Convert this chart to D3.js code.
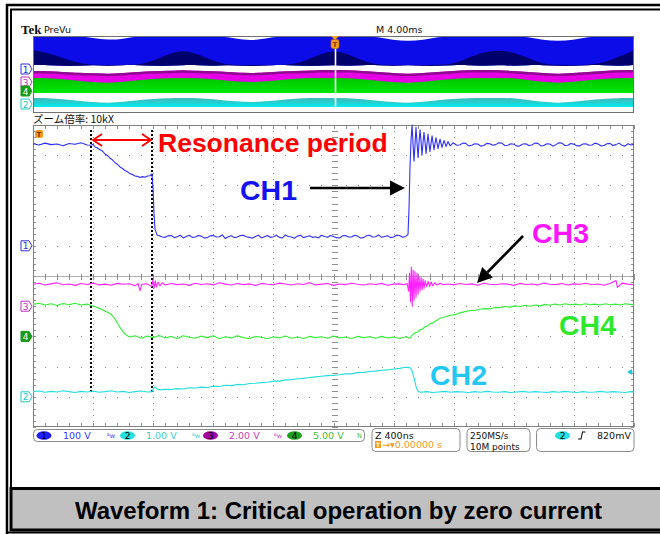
<!DOCTYPE html>
<html><head><meta charset="utf-8">
<script src="https://cdn.jsdelivr.net/npm/d3@7"></script>
<style>html,body{margin:0;padding:0;background:#fff;}svg{display:block;}</style>
</head><body>
<svg id="c" width="660" height="534"></svg>
<script>
// ---------------- DATA (time in ns, values in volts) ----------------
const ch1 = [[0,338],[40,334],[80,340],[120,335],[160,337],[200,331],[240,339],[280,336],[320,341],[360,334],
[386,333],[400,336],[413,327],[430,324],[446,318],[462,314],[479,304],[496,299],[513,290],[530,284],[546,275],[562,270],[579,261],[596,256],[612,249],[629,245],[646,239],[662,236],[679,231],[696,230],[712,226],[729,229],[745,227],[762,231],[779,232],[792,238],
[799,190],[805,110],[812,55],[825,36],
[840,33],[860,29],[880,28],[900,33],[920,34],[940,27],[960,30],[980,35],[1000,26],[1020,31],[1040,35],[1060,28],[1080,29],[1100,34],[1120,32],[1140,26],[1160,27],[1180,33],[1200,34],[1220,29],[1240,30],[1260,36],[1280,24],[1300,30],[1320,33],[1340,27],[1360,29],[1380,34],[1400,35],[1420,30],[1440,28],[1460,25],[1480,31],[1500,35],[1520,26],[1540,30],[1560,34],[1580,28],[1600,30],[1620,35],[1640,28],[1660,26],[1680,36],[1700,31],[1720,29],[1740,25],[1760,32],[1780,35],[1800,27],[1820,30],[1840,33],[1860,28],[1880,30],[1900,26],[1920,35],[1940,31],[1960,28],[1980,34],[2000,31],[2020,27],[2040,26],[2060,33],[2080,34],[2100,29],[2120,29],[2140,35],[2160,32],[2180,26],[2200,27],[2220,33],[2240,35],[2260,29],[2280,30],[2300,36],[2320,28],[2340,31],[2360,33],[2380,27],[2400,29],[2420,35],[2440,34],[2460,28],[2480,31],
[2496,38],[2503,130],[2509,260],[2516,350],[2523,400],[2530,330],[2536,280],[2543,340],[2549,392],[2556,340],[2563,292],[2569,340],[2576,384],[2583,345],[2589,300],[2596,342],[2602,376],[2609,344],[2616,306],[2629,370],[2642,312],[2656,364],[2669,318],[2682,358],[2696,322],[2709,353],[2722,326],[2736,349],[2749,329],[2762,345],[2776,331],[2796,341],
[2820,333],[2840,334],[2860,340],[2880,339],[2900,331],[2920,333],[2940,338],[2960,337],[2980,330],[3000,332],[3020,339],[3040,338],[3060,333],[3080,335],[3100,341],[3120,340],[3140,332],[3160,333],[3180,338],[3200,336],[3220,330],[3240,331],[3260,337],[3280,338],[3300,332],[3320,334],[3340,340],[3360,339],[3380,331],[3400,332],[3420,338],[3440,337],[3460,330],[3480,335],[3500,341],[3520,340],[3540,332],[3560,333],[3580,339],[3600,336],[3620,331],[3640,331],[3660,337],[3680,338],[3700,333],[3720,334],[3740,340],[3760,337],[3780,331],[3800,332],[3820,338],[3840,339],[3860,332],[3880,335],[3900,340],[3920,333],[3940,330],[3960,338],[3980,334],[4000,336]];

const ch2 = [[0,0.17],[40,0.19],[80,0.15],[120,0.18],[160,0.16],[200,0.2],[240,0.17],[280,0.14],[320,0.18],[360,0.16],[400,0.19],[440,0.15],[480,0.17],[520,0.2],[560,0.16],[600,0.18],[640,0.14],[680,0.17],[720,0.19],[760,0.16],[792,0.17],[805,0.3],[812,0.33],[825,0.26],[845,0.23],[880,0.25],[920,0.24],[960,0.27],[1000,0.26],[1040,0.30],[1080,0.29],[1120,0.32],[1160,0.31],[1200,0.35],[1240,0.34],[1280,0.38],[1320,0.37],[1360,0.41],[1400,0.40],[1440,0.44],[1480,0.45],[1520,0.47],[1560,0.48],[1600,0.52],[1640,0.52],[1680,0.56],[1720,0.57],[1760,0.60],[1800,0.61],[1840,0.64],[1880,0.66],[1920,0.68],[1960,0.70],[2000,0.71],[2040,0.73],[2080,0.76],[2120,0.76],[2160,0.80],[2200,0.81],[2240,0.84],[2280,0.85],[2320,0.88],[2360,0.89],[2400,0.92],[2440,0.94],[2470,0.97],[2496,0.98],[2509,0.96],[2523,0.86],[2536,0.62],[2549,0.35],[2563,0.18],[2580,0.15],[2620,0.17],[2660,0.14],[2700,0.16],[2740,0.18],[2780,0.15],[2820,0.17],[2860,0.16],[2900,0.14],[2940,0.17],[2980,0.15],[3020,0.18],[3060,0.16],[3100,0.15],[3140,0.17],[3180,0.14],[3220,0.16],[3260,0.18],[3300,0.15],[3340,0.17],[3380,0.16],[3420,0.14],[3460,0.17],[3500,0.15],[3540,0.18],[3580,0.16],[3620,0.14],[3660,0.17],[3700,0.15],[3740,0.16],[3780,0.18],[3820,0.15],[3860,0.17],[3900,0.16],[3940,0.14],[3980,0.17],[4000,0.16]];

const ch3 = [[0,1.45],[40,1.52],[80,1.40],[120,1.48],[160,1.55],[200,1.42],[240,1.47],[280,1.38],[320,1.50],[360,1.44],[400,1.53],[440,1.41],[480,1.46],[520,1.39],[560,1.51],[600,1.45],[640,1.49],[680,1.36],[700,1.50],[712,1.02],[724,1.45],[760,1.48],[790,1.30],[798,1.75],[806,1.20],[814,1.68],[822,1.28],[832,1.60],[845,1.35],[860,1.55],[880,1.40],[920,1.50],[960,1.43],[1000,1.47],[1040,1.38],[1080,1.52],[1120,1.44],[1160,1.49],[1200,1.41],[1240,1.55],[1280,1.46],[1320,1.40],[1360,1.50],[1400,1.43],[1440,1.48],[1480,1.37],[1520,1.51],[1560,1.45],[1600,1.42],[1640,1.53],[1680,1.47],[1720,1.40],[1760,1.49],[1800,1.44],[1840,1.56],[1880,1.41],[1920,1.46],[1960,1.50],[2000,1.38],[2040,1.47],[2080,1.43],[2120,1.52],[2160,1.45],[2200,1.40],[2240,1.49],[2280,1.44],[2320,1.51],[2360,1.39],[2400,1.46],[2440,1.48],[2470,1.42],
[2490,1.5],[2500,1.0],[2506,2.2],[2512,0.3],[2518,2.6],[2524,0.0],[2530,2.4],[2536,0.4],[2542,2.3],[2549,0.6],[2556,2.2],[2563,0.8],[2569,2.0],[2576,1.0],[2583,1.9],[2590,1.1],[2596,1.8],[2603,1.2],[2610,1.7],[2620,1.3],[2630,1.65],[2640,1.3],[2650,1.6],[2660,1.35],[2675,1.55],[2690,1.4],[2710,1.52],[2730,1.42],
[2760,1.47],[2800,1.41],[2840,1.50],[2880,1.44],[2920,1.48],[2960,1.39],[3000,1.52],[3040,1.45],[3080,1.42],[3120,1.49],[3160,1.46],[3200,1.38],[3240,1.51],[3280,1.44],[3320,1.47],[3360,1.41],[3400,1.53],[3440,1.45],[3480,1.43],[3520,1.50],[3560,1.40],[3600,1.48],[3640,1.45],[3680,1.52],[3720,1.42],[3760,1.47],[3800,1.39],[3840,1.50],[3880,1.70],[3890,1.25],[3920,1.53],[3960,1.46],[4000,1.42]];

const ch4 = [[0,5.3],[40,5.5],[80,5.2],[120,5.4],[160,5.1],[200,5.45],[240,5.25],[280,5.5],[320,5.2],[360,5.35],[386,5.1],[413,4.9],[446,4.6],[479,4.2],[513,3.8],[546,2.9],[566,2.0],[579,1.5],[599,0.8],[612,0.4],[632,0.05],[646,-0.1],[680,0.1],[720,-0.3],[760,0.05],[800,-0.2],[840,0.15],[880,-0.25],[920,0.0],[960,-0.35],[1000,0.1],[1040,-0.15],[1080,-0.3],[1120,0.05],[1160,-0.2],[1200,0.1],[1240,-0.4],[1280,-0.05],[1320,-0.25],[1360,0.1],[1400,-0.2],[1440,-0.35],[1480,0.0],[1520,-0.15],[1560,-0.4],[1600,-0.05],[1640,-0.25],[1680,0.05],[1720,-0.3],[1760,-0.1],[1800,-0.35],[1840,0.0],[1880,-0.2],[1920,-0.05],[1960,-0.3],[2000,0.05],[2040,-0.25],[2080,-0.1],[2120,-0.35],[2160,0.0],[2200,-0.2],[2240,-0.05],[2280,-0.3],[2320,0.0],[2360,-0.25],[2400,-0.1],[2440,-0.35],[2480,-0.05],[2509,-0.3],[2523,0.2],[2543,0.6],[2560,0.7],[2576,1.1],[2592,1.2],[2609,1.6],[2625,1.7],[2642,2.1],[2660,2.2],[2676,2.5],[2692,2.7],[2709,3.0],[2740,3.2],[2776,3.5],[2810,3.6],[2842,3.9],[2875,4.1],[2909,4.3],[2940,4.3],[2975,4.5],[3010,4.6],[3040,4.55],[3075,4.8],[3108,4.75],[3140,4.95],[3175,4.85],[3208,5.05],[3241,4.95],[3275,5.15],[3308,5.0],[3341,5.2],[3375,5.05],[3410,5.3],[3440,5.15],[3475,5.35],[3508,5.2],[3540,5.4],[3575,5.25],[3610,5.35],[3640,5.2],[3675,5.4],[3710,5.25],[3740,5.35],[3775,5.2],[3810,5.4],[3840,5.25],[3875,5.35],[3910,5.2],[3940,5.4],[3975,5.3],[4000,5.25]];

// overview (PreVu) envelopes, 41 samples across the record, in overview units (0 = top)
const ovBlueTop  = [0,0,0,0,2,4,3,0,0,0,0,0,0,1,4,4,1,0,0,0,0,0,0,1,4,5,4,1,0,0,0,0,0,1,4,5,4,1,0,0,0];
const ovNavyTop  = [14,17,22,27,29,29,29,29,25,18,14,18,25,29,29,29,29,29,26,19,14,18,25,29,29,29,29,29,28,22,16,14,16,22,28,29,29,29,27,21,15];
const ovBlueLow  = [29,29,30,30,29,30,29,29,30,30,29,29,30,29,30,30,29,29,30,30,29,30,29,29,30,29,30,30,29,29,30,29,30,29,29,30,30,29,29,30,29];
const ovMagTop   = [35,35,36,37,37,38,37,36,35,35,34,35,35,36,37,37,36,35,35,34,34,34,35,36,37,38,37,36,35,34,34,34,35,36,37,38,37,36,35,34,34];
const ovGreenTop = [42,42,43,45,46,47,46,44,43,42,42,42,43,45,46,46,45,43,42,42,42,42,43,45,46,47,46,44,43,42,42,42,42,44,46,47,46,44,43,42,42];
const ovGreenLow = [57,57,57,57,57,57,57,57,57,57,57,57,57,57,57,57,57,57,57,57,57,57,57,57,57,57,57,57,57,57,57,57,57,57,57,57,57,57,57,57,57];
const ovCyanTop  = [62,62,63,65,66,67,66,64,63,62,62,62,63,65,66,66,65,63,62,62,62,62,63,65,66,67,66,64,63,62,62,62,62,64,66,67,66,64,63,62,62];
const ovCyanLow  = [71,71,71,71,71,71,71,71,71,71,71,71,71,71,71,71,71,71,71,71,71,71,71,71,71,71,71,71,71,71,71,71,71,71,71,71,71,71,71,71,71];

// channel settings (from status bar)
const chNames  = ["1","2","3","4"];
const chScales = ["100 V","1.00 V","2.00 V","5.00 V"];
const chVdiv   = [100, 1, 2, 5];
const chPos    = [1.0, -4.0, -1.0, -2.0];
const chColors = ["#2f2fff","#22dede","#ff22ff","#33ee33"];
const trigLevel = 0.82;
const markerTimes = [386, 792];

// ---------------- DRAW ----------------
const svg = d3.select("#c");
svg.append("rect").attr("width",660).attr("height",534).attr("fill","#fff");

const G = {l:33, r:634, t:125, b:427};
const x = d3.scaleLinear().domain([0,4000]).range([G.l, G.r]);
const yDiv = d3.scaleLinear().domain([-5,5]).range([G.b, G.t]);
const divX = (G.r-G.l)/10, divY = (G.b-G.t)/10;

const defs = svg.append("defs");
defs.append("clipPath").attr("id","gclip").append("rect").attr("x",G.l).attr("y",G.t-1).attr("width",G.r-G.l).attr("height",G.b-G.t+1);
const gGreen = defs.append("linearGradient").attr("id","ggr").attr("x1",0).attr("x2",0).attr("y1",0).attr("y2",1);
gGreen.append("stop").attr("offset",0).attr("stop-color","#00c400");
gGreen.append("stop").attr("offset",1).attr("stop-color","#00e800");
const gCy = defs.append("linearGradient").attr("id","gcy").attr("x1",0).attr("x2",0).attr("y1",0).attr("y2",1);
gCy.append("stop").attr("offset",0).attr("stop-color","#3cbaba");
gCy.append("stop").attr("offset",0.5).attr("stop-color","#26cfd0");
gCy.append("stop").attr("offset",1).attr("stop-color","#00eef0");

// ---- overview ----
const O = {l:33, r:634, t:36, b:113};
const ovX = d3.scaleLinear().domain([0,40]).range([O.l, O.r-1]);
const ovY = d3.scaleLinear().domain([0,77]).range([O.t, O.b]);
const idx = d3.range(ovBlueTop.length);
function band(top, low, fill){
  svg.append("path").datum(idx)
    .attr("d", d3.area().x(i=>ovX(i)).y0(i=>ovY(low[i])).y1(i=>ovY(top[i])).curve(d3.curveBasis))
    .attr("fill", fill);
}
band(ovBlueTop, ovBlueLow, "#0c0ce8");
band(ovNavyTop, ovBlueLow, "#00006c");
band(ovMagTop, ovGreenTop.map(v=>v+1), "#e600e6");
svg.append("path").datum(idx)
  .attr("d", d3.line().x(i=>ovX(i)).y(i=>ovY(ovMagTop[i])+1.2).curve(d3.curveBasis))
  .attr("fill","none").attr("stroke","#8e0a8e").attr("stroke-width",2.4);
band(ovGreenTop, ovGreenLow, "url(#ggr)");
band(ovCyanTop, ovCyanLow, "url(#gcy)");
svg.append("rect").attr("x",O.l+0.5).attr("y",O.t+0.5).attr("width",O.r-O.l-1).attr("height",O.b-O.t-1)
  .attr("fill","none").attr("stroke","#707070").attr("stroke-width",1);
// trigger position line + marker in overview
svg.append("line").attr("x1",335.5).attr("x2",335.5).attr("y1",47).attr("y2",108).attr("stroke","#fff").attr("stroke-width",1.6);
svg.append("path").attr("d","M331,36 L339,36 L335,40 Z").attr("fill","#f5a020");
svg.append("rect").attr("x",331).attr("y",39.5).attr("width",8).attr("height",9).attr("rx",2).attr("fill","#f59a1e").attr("stroke","#c06a00").attr("stroke-width",0.6);
svg.append("text").attr("x",335).attr("y",47).attr("text-anchor","middle").attr("font-family","DejaVu Sans").attr("font-size",7).attr("font-weight","bold").attr("fill","#7a3a00").text("T");

// channel markers (overview & main)
function chMarker(cx, cy, label, color, filled){
  const g = svg.append("g");
  g.append("path").attr("d",`M${cx},${cy-5} H${cx+8} L${cx+11},${cy} L${cx+8},${cy+5} H${cx} Z`)
    .attr("fill", filled?color:"#fff").attr("stroke",color).attr("stroke-width",1);
  g.append("text").attr("x",cx+4.5).attr("y",cy+3.5).attr("text-anchor","middle")
    .attr("font-family","DejaVu Sans").attr("font-size",9).attr("fill",filled?"#fff":color).text(label);
}
chMarker(21,69,"1","#3030e0",false);
chMarker(21,82,"3","#c030c0",false);
chMarker(21,91,"4","#1a9a1a",true);
chMarker(21,104,"2","#20c8c8",false);

// header texts
svg.append("text").attr("x",21).attr("y",34).attr("font-family","Liberation Serif").attr("font-weight","bold").attr("font-size",13).attr("fill","#111").text("Tek");
svg.append("text").attr("x",44).attr("y",33).attr("font-family","DejaVu Sans").attr("font-size",9.5).attr("fill","#111").text("PreVu");
svg.append("text").attr("x",376).attr("y",33).attr("font-family","DejaVu Sans").attr("font-size",9.5).attr("fill","#111").text("M 4.00ms");
svg.append("text").attr("x",33).attr("y",123).attr("font-family","Noto Sans CJK JP").attr("font-size",10.5).attr("fill","#111").text("ズーム倍率: 10kX");

// ---- main graticule ----
const grid = svg.append("g").attr("shape-rendering","crispEdges");
d3.range(1,10).forEach(i=>{
  const gx = Math.round(G.l + i*divX)+0.5;
  grid.append("line").attr("x1",gx).attr("x2",gx).attr("y1",G.t).attr("y2",G.b)
    .attr("stroke","#8a8a8a").attr("stroke-dasharray",`1,${divY/5-1}`);
  const gy = Math.round(G.t + i*divY)+0.5;
  grid.append("line").attr("x1",G.l).attr("x2",G.r).attr("y1",gy).attr("y2",gy)
    .attr("stroke","#8a8a8a").attr("stroke-dasharray",`1,${divX/5-1}`);
});
const cy0 = Math.round(yDiv(0))+0.5, cx0 = Math.round(x(2000))+0.5;
grid.append("line").attr("x1",G.l).attr("x2",G.r).attr("y1",cy0).attr("y2",cy0).attr("stroke","#b0b0b0");
d3.range(0,51).forEach(k=>{
  const tx = Math.round(G.l + k*divX/5)+0.5;
  grid.append("line").attr("x1",tx).attr("x2",tx).attr("y1",cy0-3).attr("y2",cy0+3).attr("stroke","#909090");
  grid.append("line").attr("x1",tx).attr("x2",tx).attr("y1",G.t).attr("y2",G.t+4).attr("stroke","#909090");
  grid.append("line").attr("x1",tx).attr("x2",tx).attr("y1",G.b-4).attr("y2",G.b).attr("stroke","#909090");
  const ty = Math.round(G.t + k*divY/5)+0.5;
  grid.append("line").attr("x1",cx0-3).attr("x2",cx0+3).attr("y1",ty).attr("y2",ty).attr("stroke","#909090");
  grid.append("line").attr("x1",G.l).attr("x2",G.l+3).attr("y1",ty).attr("y2",ty).attr("stroke","#909090");
  grid.append("line").attr("x1",G.r-3).attr("x2",G.r).attr("y1",ty).attr("y2",ty).attr("stroke","#909090");
});
grid.append("rect").attr("x",G.l+0.5).attr("y",G.t+0.5).attr("width",G.r-G.l-1).attr("height",G.b-G.t-1)
  .attr("fill","none").attr("stroke","#808080");

// resonance markers (black dotted)
markerTimes.forEach(t=>{
  svg.append("line").attr("x1",x(t)).attr("x2",x(t)).attr("y1",130).attr("y2",392)
    .attr("stroke","#000").attr("stroke-width",2).attr("stroke-dasharray","2,2");
});

// traces
const traces = svg.append("g").attr("clip-path","url(#gclip)");
const allData = [ch1, ch2, ch3, ch4];
[1,3,2,0].forEach(k=>{
  const ln = d3.line().x(d=>x(d[0])).y(d=>yDiv(chPos[k] + d[1]/chVdiv[k]));
  traces.append("path").datum(allData[k]).attr("d",ln).attr("fill","none")
    .attr("stroke",chColors[k]).attr("stroke-width",1.1).attr("stroke-linejoin","round");
});

// channel ground markers on main screen
chMarker(21, yDiv(chPos[0]), "1", "#3030e0", false);
chMarker(21, yDiv(chPos[2]), "3", "#c030c0", false);
chMarker(21, yDiv(chPos[3]), "4", "#1a9a1a", true);
chMarker(21, yDiv(chPos[1]), "2", "#20c8c8", false);

// trigger T marker top-left, trigger level marker on right
svg.append("rect").attr("x",35).attr("y",130).attr("width",8).attr("height",8).attr("rx",2).attr("fill","#f59a1e");
svg.append("text").attr("x",39).attr("y",137).attr("text-anchor","middle").attr("font-family","DejaVu Sans").attr("font-size",7).attr("font-weight","bold").attr("fill","#7a3a00").text("T");
const tly = yDiv(chPos[1] + trigLevel/chVdiv[1]);
svg.append("path").attr("d",`M${G.r-7},${tly} L${G.r-2},${tly-3} L${G.r-2},${tly+3} Z`).attr("fill","#20c8d8");
svg.append("line").attr("x1",G.r-4).attr("x2",G.r).attr("y1",tly).attr("y2",tly).attr("stroke","#20c8d8");

// ---- annotations ----
const ann = svg.append("g");
const ay = 140, ax1 = x(markerTimes[0])+2, ax2 = x(markerTimes[1])-1;
ann.append("line").attr("x1",ax1).attr("x2",ax2).attr("y1",ay).attr("y2",ay).attr("stroke","#ff0000").attr("stroke-width",1.8);
ann.append("path").attr("d",`M${ax1+9},${ay-6} L${ax1},${ay} L${ax1+9},${ay+6}`).attr("fill","none").attr("stroke","#ff0000").attr("stroke-width",1.8);
ann.append("path").attr("d",`M${ax2-9},${ay-6} L${ax2},${ay} L${ax2-9},${ay+6}`).attr("fill","none").attr("stroke","#ff0000").attr("stroke-width",1.8);
ann.append("text").attr("x",158).attr("y",152).attr("font-family","Liberation Sans, Arial").attr("font-weight","bold").attr("font-size",26.5).attr("fill","#ff0000").text("Resonance period");
function label(txt, lx, ly, col){
  ann.append("text").attr("x",lx).attr("y",ly).attr("font-family","Liberation Sans, Arial").attr("font-weight","bold").attr("font-size",28.5).attr("fill",col).text(txt);
}
label("CH1",240,200,"#1414f0");
label("CH3",532,243,"#ff14ff");
label("CH4",559,335,"#2ee82e");
label("CH2",430,385,"#22c8f2");
function arrow(x1,y1,x2,y2){
  const ang = Math.atan2(y2-y1,x2-x1), L=15, Wd=7.5;
  const bx = x2 - L*Math.cos(ang), by = y2 - L*Math.sin(ang);
  ann.append("line").attr("x1",x1).attr("y1",y1).attr("x2",bx).attr("y2",by).attr("stroke","#000").attr("stroke-width",2.6);
  const px = -Math.sin(ang)*Wd, py = Math.cos(ang)*Wd;
  ann.append("path").attr("d",`M${x2},${y2} L${bx+px},${by+py} L${bx-px},${by-py} Z`).attr("fill","#000");
}
arrow(310,188,405,188);
arrow(523,236,477,283);

// ---- status bar ----
const sb = svg.append("g").attr("font-family","DejaVu Sans");
sb.append("rect").attr("x",33.5).attr("y",429.5).attr("width",331).attr("height",12).attr("rx",4).attr("fill","#fff").attr("stroke","#8a8a8a");
const ellX = [44,127.5,210.5,294.5], sclX=[63,146,229,313], symX=[107,192,274,357];
const ellFill = ["#1e1eff","#22dede","#a000a0","#20a020"];
const txtFill = ["#3a3aff","#40cccc","#c040c0","#40c040"];
chNames.forEach((n,i)=>{
  sb.append("ellipse").attr("cx",ellX[i]).attr("cy",435.5).attr("rx",7.5).attr("ry",4.3).attr("fill",ellFill[i]);
  sb.append("text").attr("x",ellX[i]).attr("y",438.8).attr("text-anchor","middle").attr("font-size",9).attr("fill","#000").text(n);
  sb.append("text").attr("x",sclX[i]).attr("y",439).attr("font-size",9.5).attr("fill",txtFill[i]).text(chScales[i]);
  sb.append("text").attr("x",symX[i]).attr("y",438).attr("font-size",6.5).attr("fill",txtFill[i]).text(i<3?"ᴮw":"N");
});
sb.append("rect").attr("x",372).attr("y",428.5).attr("width",88).attr("height",23).attr("rx",4).attr("fill","#fff").attr("stroke","#8a8a8a");
sb.append("text").attr("x",375).attr("y",438.5).attr("font-size",9.5).attr("fill","#111").text("Z 400ns");
sb.append("rect").attr("x",375).attr("y",441).attr("width",6).attr("height",7).attr("fill","#f59a1e");
sb.append("text").attr("x",378).attr("y",447.3).attr("text-anchor","middle").attr("font-size",6).attr("font-weight","bold").attr("fill","#fff").text("T");
sb.append("text").attr("x",382).attr("y",448).attr("font-size",9.5).attr("fill","#f59a1e").text("→▾0.00000 s");
sb.append("rect").attr("x",467).attr("y",428.5).attr("width",63).attr("height",23).attr("rx",4).attr("fill","#fff").attr("stroke","#8a8a8a");
sb.append("text").attr("x",470).attr("y",438.5).attr("font-size",9).attr("fill","#111").text("250MS/s");
sb.append("text").attr("x",470).attr("y",449.5).attr("font-size",9).attr("fill","#111").text("10M points");
sb.append("rect").attr("x",536.5).attr("y",428.5).attr("width",97.5).attr("height",23).attr("rx",4).attr("fill","#fff").attr("stroke","#8a8a8a");
sb.append("ellipse").attr("cx",562.5).attr("cy",435.5).attr("rx",7.5).attr("ry",4.3).attr("fill","#22dede");
sb.append("text").attr("x",562.5).attr("y",438.8).attr("text-anchor","middle").attr("font-size",9).attr("fill","#000").text("2");
sb.append("path").attr("d","M578,439 L581,439 L582.5,432 L585.5,432").attr("fill","none").attr("stroke","#111").attr("stroke-width",1.1);
sb.append("text").attr("x",597).attr("y",439).attr("font-size",9.5).attr("fill","#111").text((trigLevel*1000)+"mV");

// ---- frame & title ----
svg.append("path").attr("d","M7,534 V5 H660").attr("fill","none").attr("stroke","#000").attr("stroke-width",2.5);
svg.append("path").attr("d","M11,530 V9.5 H660").attr("fill","none").attr("stroke","#000").attr("stroke-width",2);
svg.append("rect").attr("x",11).attr("y",488.5).attr("width",660).attr("height",41.5).attr("fill","#c0c0c0").attr("stroke","#000").attr("stroke-width",3);
svg.append("line").attr("x1",6).attr("x2",660).attr("y1",532.5).attr("y2",532.5).attr("stroke","#000").attr("stroke-width",2);
svg.append("text").attr("x",338.5).attr("y",519).attr("text-anchor","middle").attr("font-family","Liberation Sans, Arial").attr("font-weight","bold").attr("font-size",24).attr("fill","#000").text("Waveform 1: Critical operation by zero current");
</script>
</body></html>
